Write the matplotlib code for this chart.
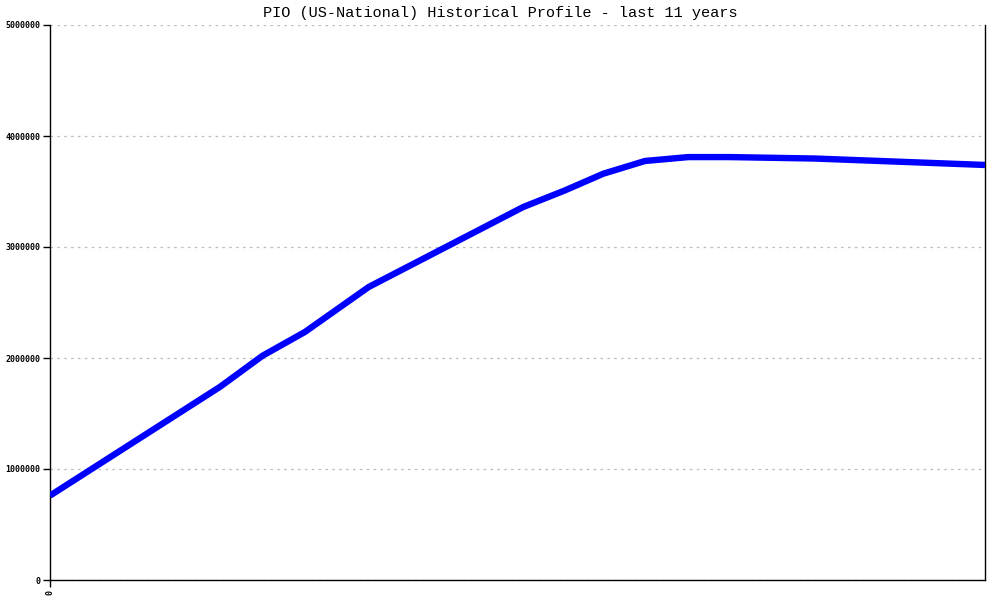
import matplotlib
matplotlib.use("Agg")
import matplotlib.pyplot as plt

# months since start of the 11-year window
months = [0, 24, 30, 36, 45, 66.8, 72.7, 78.1, 84, 90.1, 96, 108, 132]
values = [760000, 1740000, 2020000, 2235000, 2640000, 3360000, 3510000,
          3660000, 3775000, 3810000, 3810000, 3797000, 3739000]
yticks = [0, 1000000, 2000000, 3000000, 4000000, 5000000]
ytick_labels = ["0", "1000000", "2000000", "3000000", "4000000", "5000000"]
xticks = [0]
xtick_labels = ["0"]
title = "PIO (US-National) Historical Profile - last 11 years"

fig = plt.figure(figsize=(10, 6), dpi=100)
ax = fig.add_axes([0.05, 20 / 600, 0.935, 555 / 600])

ax.plot(months, values, color="#0000ff", linewidth=4.6, solid_joinstyle="miter",
        solid_capstyle="butt", zorder=3)

ax.set_xlim(0, 132)
ax.set_ylim(0, 5000000)
ax.set_yticks(yticks)
ax.set_yticklabels(ytick_labels, fontfamily="DejaVu Sans Mono", fontsize=6,
                   fontweight="bold")
ax.set_xticks(xticks)
ax.set_xticklabels(xtick_labels, fontfamily="DejaVu Sans Mono", fontsize=6,
                   fontweight="bold", rotation=90)
ax.tick_params(axis="both", direction="out", length=5, width=1, color="black",
               pad=2)

ax.grid(axis="y", color="#bbbbbb", linestyle=(0, (2, 3.5)), linewidth=0.9)
ax.set_axisbelow(True)

ax.spines["top"].set_visible(False)
for s in ("left", "right", "bottom"):
    ax.spines[s].set_color("black")
    ax.spines[s].set_linewidth(1)

fig.text(0.5, 1 - 13 / 600, title, ha="center", va="center",
         fontfamily="Liberation Mono", fontsize=11)

fig.savefig("out.png", dpi=100, facecolor="white")
